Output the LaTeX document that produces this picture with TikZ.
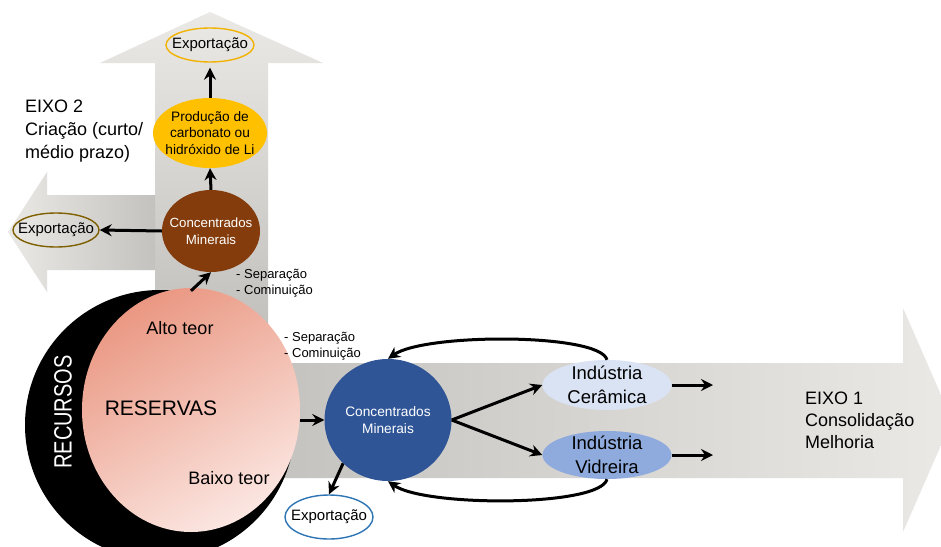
\documentclass[tikz,border=0pt]{standalone}
\usepackage{fontspec}
\usepackage{graphicx}
\setmainfont{Liberation Sans}
\usetikzlibrary{shapes.geometric,arrows.meta}
\definecolor{yelC}{HTML}{FFC000}
\definecolor{yelOut}{HTML}{F2B200}
\definecolor{brownC}{HTML}{843C0C}
\definecolor{oliveOut}{HTML}{7F6000}
\definecolor{blueC}{HTML}{2F5597}
\definecolor{blueOut}{HTML}{2E75B6}
\definecolor{cerC}{HTML}{DAE3F3}
\definecolor{vidC}{HTML}{8FAADC}
\definecolor{pinkA}{HTML}{EA9883}
\definecolor{pinkB}{HTML}{FBE6E1}
\definecolor{axLight}{HTML}{EBE9E6}
\definecolor{axDark}{HTML}{BEBCB9}
\definecolor{axMid}{HTML}{C4C2BF}
\begin{document}
\begin{tikzpicture}[x=1pt,y=-1pt,
  conn/.style={line width=3pt,-{Stealth[length=12pt,width=12pt,inset=4pt]}},
  ell/.style={ellipse,inner sep=0pt,draw=none},
  expo/.style={ellipse,inner sep=0pt,line width=1.4pt,minimum width=88pt,minimum height=34pt},
  lbl/.style={inner sep=0pt,align=center},
]
\clip (0,0) rectangle (941,546);
\fill[white] (0,0) rectangle (941,546);
% axis arrows
\shade[top color=axLight, bottom color=axDark]
  (155,363) -- (155,63) -- (100,63) -- (210,12) -- (323,63) -- (268,63) -- (268,363) -- cycle;
\shade[left color=axLight, right color=axMid]
  (155,195) -- (47,195) -- (47,172) -- (8,232) -- (47,292) -- (47,270) -- (155,270) -- cycle;
\shade[left color=axDark, right color=axLight]
  (155,363) -- (903,363) -- (903,308) -- (952,420) -- (903,532) -- (903,478) -- (155,478) -- cycle;
% resources / reserves
\node[circle,fill=black,minimum size=270pt,inner sep=0pt] (rec) at (160,425) {};
\node[lbl,rotate=90,text=white,font=\fontsize{25}{30}\selectfont] (reclbl) at (63,412) {\scalebox{0.8}[1]{RECURSOS}};
\node[ell,minimum width=218pt,minimum height=244pt,top color=pinkA,bottom color=pinkB,shading angle=30] (res) at (191,410) {};
\node[lbl,font=\fontsize{18}{22}\selectfont] (alto) at (180,328) {Alto teor};
\node[lbl,font=\fontsize{21}{25}\selectfont] (reslbl) at (161,408) {RESERVAS};
\node[lbl,font=\fontsize{18}{22}\selectfont] (baixo) at (229,478) {Baixo teor};
% eixo 2 nodes
\node[expo,draw=yelOut,label={[lbl,font=\fontsize{15}{18}\selectfont]center:Exportação}] (expTop) at (210,45) {};
\node[ell,fill=yelC,minimum width=114pt,minimum height=70pt,
  label={[lbl,font=\fontsize{13.7}{16.5}\selectfont]center:Produção de\\carbonato ou\\hidróxido de Li}] (yel) at (210,133) {};
\node[ell,fill=brownC,minimum width=98pt,minimum height=82pt,
  label={[lbl,text=white,font=\fontsize{13.3}{16.5}\selectfont]center:Concentrados\\Minerais}] (brown) at (211,231) {};
\node[expo,draw=oliveOut,minimum width=86pt,label={[lbl,font=\fontsize{15}{18}\selectfont]center:Exportação}] (expLeft) at (56,230) {};
\node[lbl,anchor=west,align=left,font=\fontsize{18}{23}\selectfont] (eixo2) at (25,131) {EIXO 2\\Criação (curto/\\médio prazo)};
\node[lbl,anchor=west,align=left,font=\fontsize{13}{16.5}\selectfont] (sep1) at (236,283) {- Separação\\- Cominuição};
% eixo 1 nodes
\node[lbl,anchor=west,align=left,font=\fontsize{13}{16.5}\selectfont] (sep2) at (284,346) {- Separação\\- Cominuição};
\node[ell,fill=blueC,minimum width=127pt,minimum height=122pt,
  label={[lbl,text=white,font=\fontsize{13.7}{17}\selectfont]center:Concentrados\\Minerais}] (blue) at (388,420) {};
\node[ell,fill=cerC,minimum width=129pt,minimum height=50pt,
  label={[lbl,font=\fontsize{18.5}{23.5}\selectfont]center:Indústria\\Cerâmica}] (cer) at (607,385) {};
\node[ell,fill=vidC,minimum width=129pt,minimum height=48pt,
  label={[lbl,font=\fontsize{18.5}{23.5}\selectfont]center:Indústria\\Vidreira}] (vid) at (607,455) {};
\node[expo,draw=blueOut,minimum height=44pt,label={[lbl,font=\fontsize{15}{18}\selectfont]center:Exportação}] (expBot) at (329,517) {};
\node[lbl,anchor=west,align=left,font=\fontsize{18}{22}\selectfont] (eixo1) at (805,420) {EIXO 1\\Consolidação\\Melhoria};
\coordinate (endCer) at (713,385);
\coordinate (endVid) at (713,455);
% connectors
\draw[conn] (yel.north) -- ([yshift=-5pt]expTop.south);
\draw[conn] (brown.north) -- (yel.south);
\draw[conn] (brown.west) -- (expLeft.east);
\draw[conn] ([yshift=-3pt]res.north) -- (brown.south);
\draw[conn] (res.east |- blue.west) -- (blue.west);
\draw[conn] (blue.east) -- (cer.west);
\draw[conn] (blue.east) -- (vid.west);
\draw[conn] (cer.north) .. controls (600,333) and (425,333) .. (blue.north);
\draw[conn] (vid.south) .. controls (600,507) and (425,507) .. (blue.south);
\draw[conn] (cer.east) -- (endCer);
\draw[conn] (vid.east) -- (endVid);
\draw[conn] (blue.224) -- (expBot.north);
\end{tikzpicture}
\end{document}
